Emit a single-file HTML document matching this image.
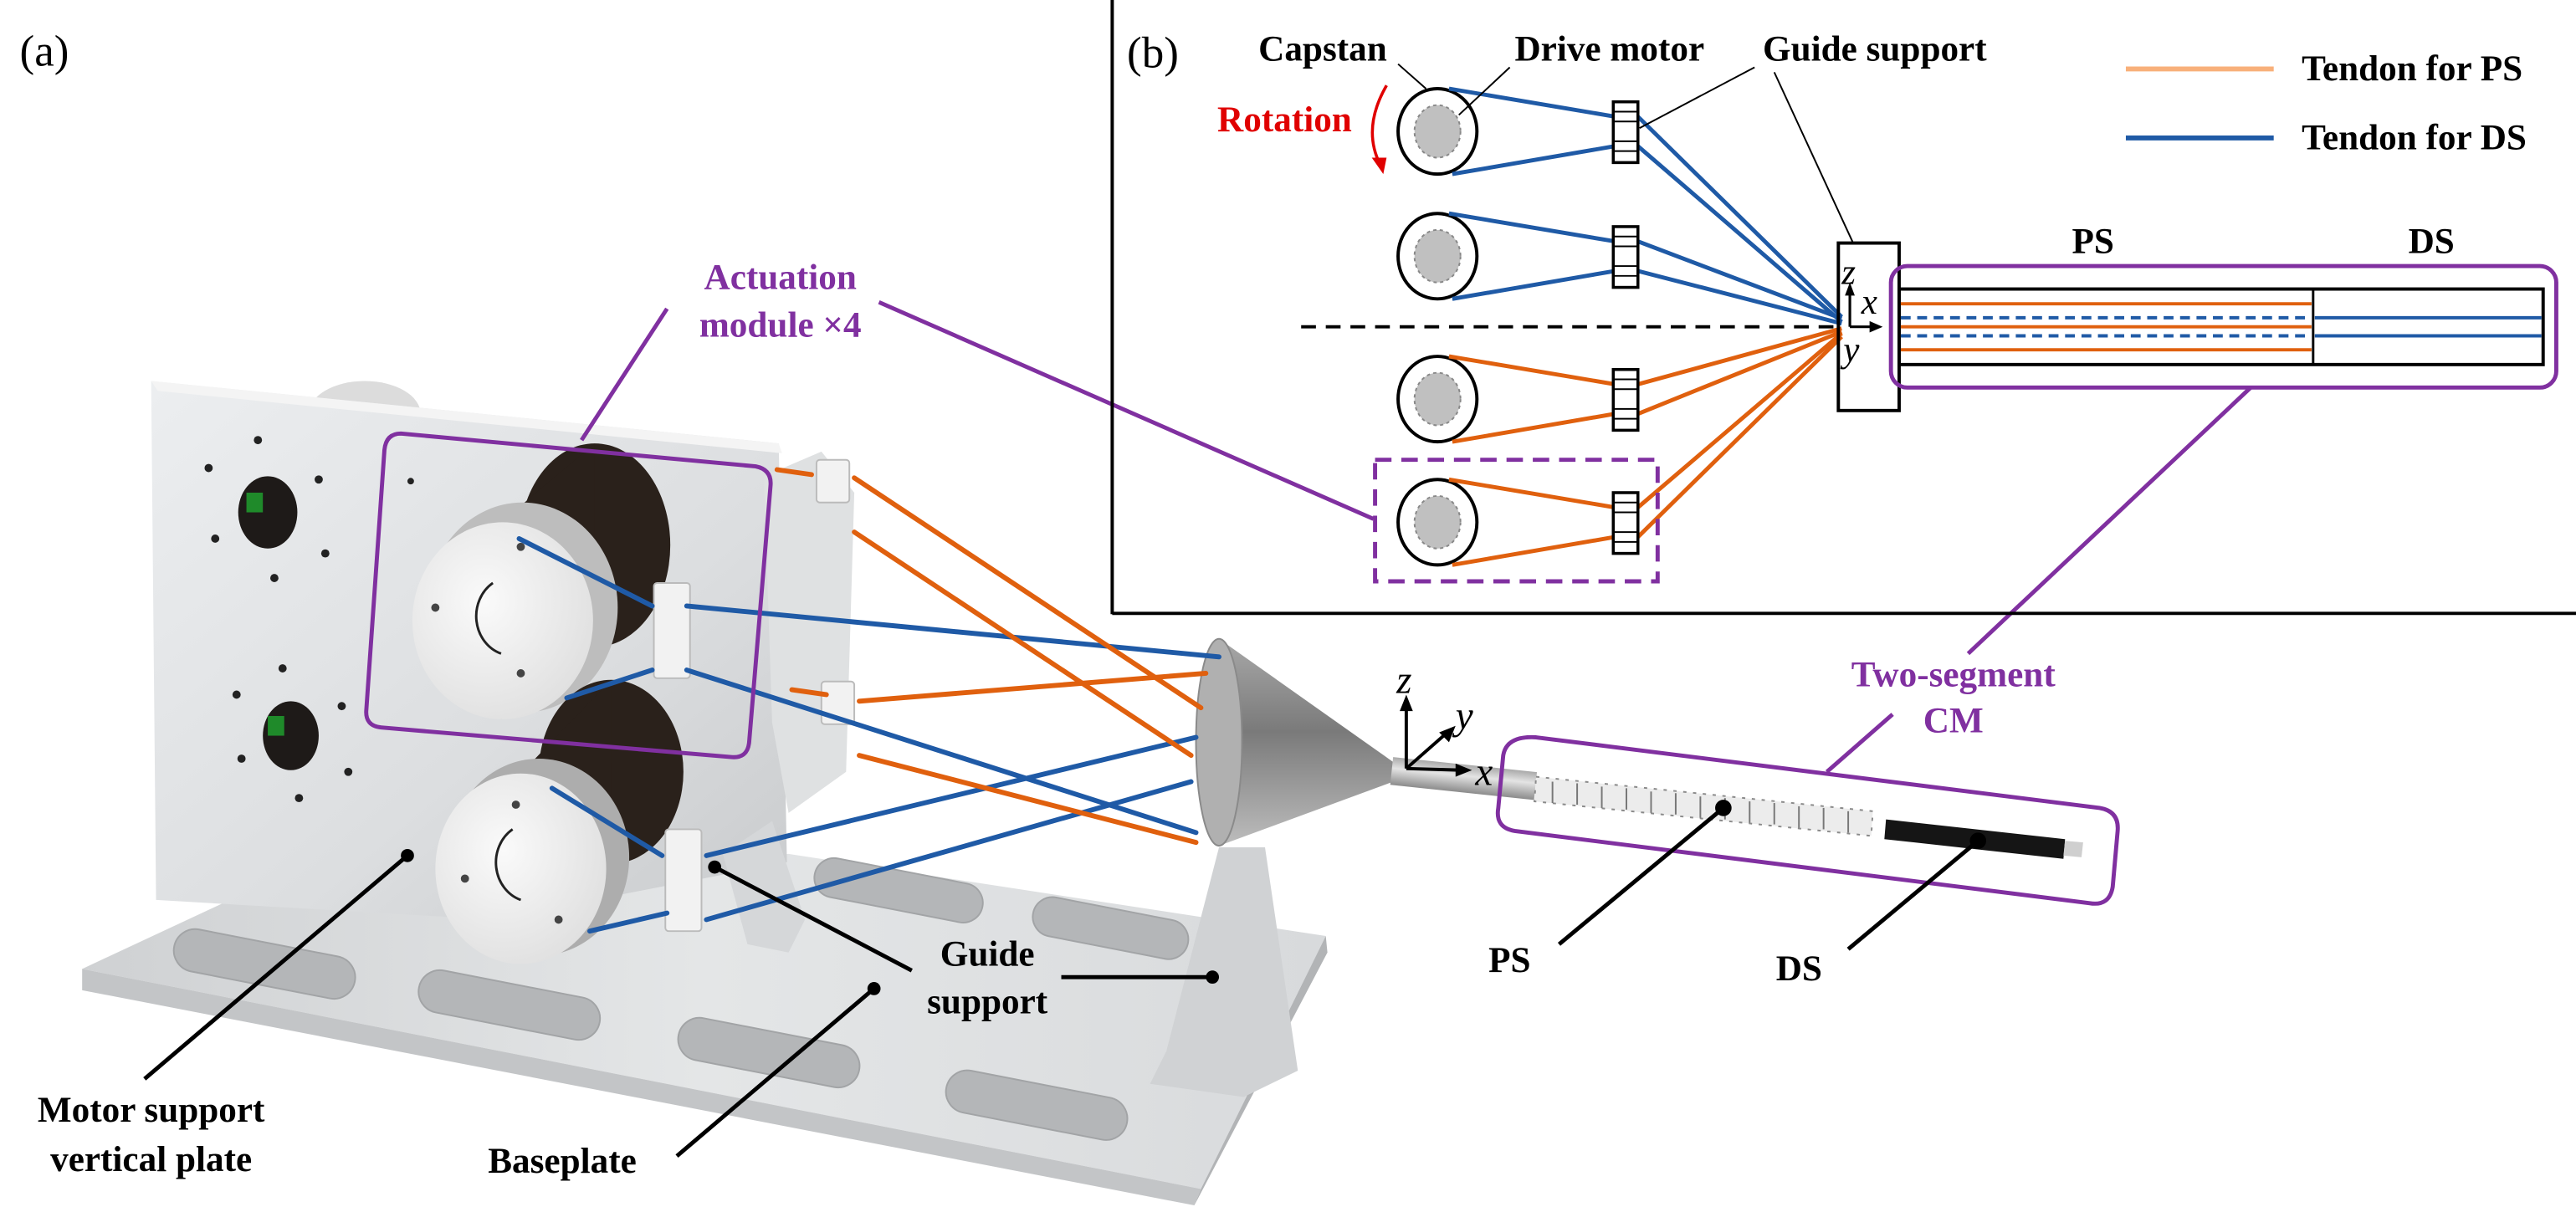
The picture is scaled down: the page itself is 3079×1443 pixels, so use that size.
<!DOCTYPE html>
<html><head><meta charset="utf-8"><style>
html,body{margin:0;padding:0;background:#fff;}
svg{display:block;}
text{font-family:"Liberation Serif",serif;}
.b{font-weight:bold;font-size:22px;}
</style></head><body>
<svg width="3079" height="1443" viewBox="0 0 1568 735" preserveAspectRatio="none" xmlns="http://www.w3.org/2000/svg">
<defs>
<linearGradient id="plate" x1="0" y1="0" x2="1" y2="1"><stop offset="0" stop-color="#eceef0"/><stop offset="0.6" stop-color="#dcdee0"/><stop offset="1" stop-color="#c9cbcd"/></linearGradient>
<linearGradient id="base" x1="0" y1="0" x2="1" y2="0"><stop offset="0" stop-color="#cfd1d3"/><stop offset="0.5" stop-color="#e4e6e7"/><stop offset="1" stop-color="#d8dadc"/></linearGradient>
<linearGradient id="cone" x1="0" y1="0" x2="0" y2="1"><stop offset="0" stop-color="#a8a8a8"/><stop offset="0.45" stop-color="#7a7a7a"/><stop offset="1" stop-color="#bdbdbd"/></linearGradient>
<linearGradient id="shaft" x1="0" y1="0" x2="0" y2="1"><stop offset="0" stop-color="#a9a9a9"/><stop offset="0.4" stop-color="#e4e4e4"/><stop offset="1" stop-color="#8c8c8c"/></linearGradient>
<radialGradient id="face" cx="0.4" cy="0.4" r="0.7"><stop offset="0" stop-color="#fafafa"/><stop offset="1" stop-color="#dedede"/></radialGradient>
</defs>

<text x="12" y="40" font-size="27">(a)</text>
<text x="686" y="41" font-size="27">(b)</text>

<ellipse cx="222" cy="252" rx="34" ry="20" fill="#dcdcdc"/>
<polygon points="50,590 140,548 480,520 807,570 731,724" fill="url(#base)"/>
<polygon points="50,590 731,724 727,734 50,603" fill="#c3c5c7"/>
<polygon points="731,724 807,570 808,580 727,734" fill="#b2b4b6"/>
<g fill="#b4b6b8" stroke="#a2a4a6" stroke-width="1">
<rect x="105" y="574" width="112" height="26" rx="13" transform="rotate(11 161 587)"/>
<rect x="254" y="599" width="112" height="26" rx="13" transform="rotate(11 310 612)"/>
<rect x="412" y="628" width="112" height="26" rx="13" transform="rotate(11 468 641)"/>
<rect x="575" y="660" width="112" height="26" rx="13" transform="rotate(11 631 673)"/>
<rect x="495" y="530" width="104" height="24" rx="12" transform="rotate(11 546 542)"/>
<rect x="628" y="553" width="96" height="24" rx="12" transform="rotate(11 675 565)"/>
</g>
<polygon points="92,232 474,270 479,525 300,560 95,548" fill="url(#plate)"/>
<polygon points="92,232 474,270 476,276 96,238" fill="#f4f4f4"/>
<ellipse cx="163" cy="312" rx="18" ry="22" fill="#1e1a18"/>
<rect x="150" y="300" width="10" height="12" fill="#1f8a2a"/>
<ellipse cx="177" cy="448" rx="17" ry="21" fill="#1e1a18"/>
<rect x="163" y="436" width="10" height="12" fill="#1f8a2a"/>
<g fill="#222"><circle cx="157" cy="268" r="2.5"/><circle cx="127" cy="285" r="2.5"/><circle cx="194" cy="292" r="2.5"/><circle cx="131" cy="328" r="2.5"/><circle cx="198" cy="337" r="2.5"/><circle cx="167" cy="352" r="2.5"/><circle cx="172" cy="407" r="2.5"/><circle cx="144" cy="423" r="2.5"/><circle cx="208" cy="430" r="2.5"/><circle cx="147" cy="462" r="2.5"/><circle cx="212" cy="470" r="2.5"/><circle cx="182" cy="486" r="2.5"/><circle cx="248" cy="521" r="2"/><circle cx="250" cy="293" r="2"/></g>
<polygon points="465,290 500,275 520,300 515,470 480,495 470,440" fill="#dfe1e2"/>
<polygon points="440,520 470,500 490,560 480,580 455,575" fill="#d5d7d9"/>
<polygon points="742,516 770,516 790,652 757,668 700,660 710,640" fill="#d0d2d4"/>
<ellipse cx="362" cy="332" rx="46" ry="62" fill="#2a211b"/>
<polygon points="305,318 362,270 362,394 305,438" fill="#2a211b"/>
<ellipse cx="318" cy="370" rx="58" ry="64" fill="#bdbdbd"/>
<ellipse cx="306" cy="378" rx="55" ry="60" fill="url(#face)"/>
<path d="M300,355 A22,24 0 0 0 305,398" fill="none" stroke="#222" stroke-width="1.5"/>
<g fill="#444"><circle cx="317" cy="333" r="2.5"/><circle cx="265" cy="370" r="2.5"/><circle cx="317" cy="410" r="2.5"/></g>
<ellipse cx="372" cy="470" rx="44" ry="56" fill="#2a211b"/>
<polygon points="318,470 372,414 372,526 318,586" fill="#2a211b"/>
<ellipse cx="328" cy="522" rx="55" ry="60" fill="#adadad"/>
<ellipse cx="317" cy="529" rx="52" ry="58" fill="url(#face)"/>
<path d="M312,505 A22,24 0 0 0 317,548" fill="none" stroke="#222" stroke-width="1.5"/>
<g fill="#444"><circle cx="314" cy="490" r="2.5"/><circle cx="283" cy="535" r="2.5"/><circle cx="340" cy="560" r="2.5"/></g>
<g fill="#f2f2f2" stroke="#bbb" stroke-width="1">
<rect x="398" y="355" width="22" height="58" rx="2"/>
<rect x="405" y="505" width="22" height="62" rx="2"/>
<rect x="497" y="280" width="20" height="26" rx="2"/>
<rect x="500" y="415" width="20" height="26" rx="2"/>
</g>
<polygon points="742,389 848,464 848,476 742,515" fill="url(#cone)"/>
<ellipse cx="742" cy="452" rx="14" ry="63" fill="#b0b0b0" stroke="#8a8a8a"/>
<rect x="848" y="461" width="88" height="17" fill="url(#shaft)" transform="rotate(6 848 461)"/>
<polygon points="935,473 1140,494 1139,509 934,488" fill="#ececec" stroke="#8a8a8a" stroke-width="1" stroke-dasharray="2,4"/>
<g stroke="#777" stroke-width="1"><line x1="945" y1="476" x2="945" y2="489"/><line x1="960" y1="477" x2="960" y2="490"/><line x1="975" y1="479" x2="975" y2="492"/><line x1="990" y1="480" x2="990" y2="493"/><line x1="1005" y1="482" x2="1005" y2="495"/><line x1="1020" y1="483" x2="1020" y2="496"/><line x1="1035" y1="485" x2="1035" y2="498"/><line x1="1050" y1="486" x2="1050" y2="499"/><line x1="1065" y1="488" x2="1065" y2="501"/><line x1="1080" y1="489" x2="1080" y2="502"/><line x1="1095" y1="491" x2="1095" y2="504"/><line x1="1110" y1="492" x2="1110" y2="505"/><line x1="1125" y1="494" x2="1125" y2="507"/></g>
<polygon points="1148,499 1257,511 1256,523 1147,511" fill="#151515"/>
<polygon points="1257,512 1268,513 1267,522 1256,521" fill="#cfcfcf"/>

<g stroke="#1f5aa6" stroke-width="3" fill="none" stroke-linecap="round">
<line x1="316" y1="328" x2="397" y2="369"/><line x1="418" y1="369" x2="742" y2="400"/>
<line x1="345" y1="425" x2="397" y2="408"/><line x1="418" y1="408" x2="728" y2="507"/>
<line x1="336" y1="480" x2="403" y2="521"/><line x1="430" y1="521" x2="728" y2="449"/>
<line x1="359" y1="567" x2="406" y2="556"/><line x1="430" y1="560" x2="725" y2="476"/>
</g>
<g stroke="#e0600e" stroke-width="3" fill="none" stroke-linecap="round">
<line x1="473" y1="286" x2="494" y2="289"/><line x1="520" y1="291" x2="731" y2="431"/>
<line x1="520" y1="324" x2="725" y2="460"/>
<line x1="482" y1="420" x2="503" y2="423"/><line x1="523" y1="427" x2="734" y2="410"/>
<line x1="523" y1="460" x2="728" y2="513"/>
</g>

<g stroke="#8030a0" stroke-width="2.5" fill="none">
<path d="M244,264 L460,284 Q470,286 469,296 L456,452 Q455,462 445,461 L232,443 Q222,442 223,432 L234,274 Q235,264 244,264 Z"/>
<line x1="406" y1="188" x2="354" y2="268"/>
<line x1="535" y1="184" x2="836" y2="316"/>
<path d="M935,449 L1278,492 Q1290,494 1289,506 L1286,540 Q1284,552 1272,550 L922,506 Q910,504 912,492 L915,460 Q917,448 935,449 Z"/>
<line x1="1152" y1="435" x2="1112" y2="470"/>
<line x1="1198" y1="398" x2="1370" y2="236"/>
</g>
<text x="475" y="176" class="b" fill="#8030a0" text-anchor="middle">Actuation</text>
<text x="475" y="205" class="b" fill="#8030a0" text-anchor="middle">module ×4</text>
<text x="1189" y="418" class="b" fill="#8030a0" text-anchor="middle">Two-segment</text>
<text x="1189" y="446" class="b" fill="#8030a0" text-anchor="middle">CM</text>

<g stroke="#000" stroke-width="2.5" fill="none">
<line x1="88" y1="657" x2="248" y2="521"/>
<line x1="412" y1="704" x2="532" y2="602"/>
<line x1="555" y1="591" x2="435" y2="528"/>
<line x1="646" y1="595" x2="738" y2="595"/>
<line x1="949" y1="575" x2="1049" y2="492"/>
<line x1="1125" y1="578" x2="1204" y2="512"/>
</g>
<g fill="#000"><circle cx="248" cy="521" r="4"/><circle cx="532" cy="602" r="4"/><circle cx="435" cy="528" r="4"/><circle cx="738" cy="595" r="4"/><circle cx="1049" cy="492" r="5"/><circle cx="1204" cy="512" r="5"/></g>
<text x="92" y="683" class="b" text-anchor="middle">Motor support</text>
<text x="92" y="713" class="b" text-anchor="middle">vertical plate</text>
<text x="297" y="714" class="b">Baseplate</text>
<text x="601" y="588" class="b" text-anchor="middle">Guide</text>
<text x="601" y="617" class="b" text-anchor="middle">support</text>
<text x="906" y="592" class="b">PS</text>
<text x="1081" y="597" class="b">DS</text>

<g stroke="#000" stroke-width="2" fill="none">
<line x1="856" y1="468" x2="856" y2="430"/><line x1="856" y1="468" x2="890" y2="469"/><line x1="856" y1="468" x2="881" y2="446"/>
</g>
<g fill="#000"><polygon points="856,423 852,433 860,433"/><polygon points="896,469 886,465 886,473"/><polygon points="886,442 876,446 882,452"/></g>
<text x="850" y="422" font-size="24" font-style="italic">z</text>
<text x="886" y="444" font-size="24" font-style="italic">y</text>
<text x="898" y="478" font-size="24" font-style="italic">x</text>

<line x1="677" y1="0" x2="677" y2="374" stroke="#000" stroke-width="2"/>
<line x1="677" y1="373.5" x2="1568" y2="373.5" stroke="#000" stroke-width="2"/>
<line x1="792" y1="199" x2="1122" y2="199" stroke="#000" stroke-width="2" stroke-dasharray="9,6"/>

<g stroke="#000" stroke-width="2" fill="#fff">
<ellipse cx="875" cy="80" rx="24" ry="26"/><ellipse cx="875" cy="156" rx="24" ry="26"/><ellipse cx="875" cy="243" rx="24" ry="26"/><ellipse cx="875" cy="318" rx="24" ry="26"/>
</g>
<g fill="#c0c0c0" stroke="#888" stroke-width="1" stroke-dasharray="2,2">
<ellipse cx="875" cy="80" rx="14" ry="16"/><ellipse cx="875" cy="156" rx="14" ry="16"/><ellipse cx="875" cy="243" rx="14" ry="16"/><ellipse cx="875" cy="318" rx="14" ry="16"/>
</g>
<g stroke="#1f5aa6" stroke-width="2.5" fill="none">
<polyline points="882,54 983,71 997,71 1121,193"/><polyline points="884,106 983,89 997,89 1121,196"/>
<polyline points="882,130 983,147 997,147 1121,194"/><polyline points="884,182 983,165 997,165 1121,197"/>
</g>
<g stroke="#e0600e" stroke-width="2.5" fill="none">
<polyline points="882,217 983,234 997,234 1121,200"/><polyline points="884,269 983,252 997,252 1121,202"/>
<polyline points="882,292 983,309 997,309 1121,203"/><polyline points="884,344 983,327 997,327 1121,205"/>
</g>
<g stroke="#000" stroke-width="1.8" fill="#fff">
<rect x="982" y="62" width="15" height="37"/><rect x="982" y="138" width="15" height="37"/><rect x="982" y="225" width="15" height="37"/><rect x="982" y="300" width="15" height="37"/>
</g>
<g stroke="#000" stroke-width="1">
<line x1="982" y1="68" x2="997" y2="68"/><line x1="982" y1="74" x2="997" y2="74"/><line x1="982" y1="86" x2="997" y2="86"/><line x1="982" y1="92" x2="997" y2="92"/>
<line x1="982" y1="144" x2="997" y2="144"/><line x1="982" y1="150" x2="997" y2="150"/><line x1="982" y1="162" x2="997" y2="162"/><line x1="982" y1="168" x2="997" y2="168"/>
<line x1="982" y1="231" x2="997" y2="231"/><line x1="982" y1="237" x2="997" y2="237"/><line x1="982" y1="249" x2="997" y2="249"/><line x1="982" y1="255" x2="997" y2="255"/>
<line x1="982" y1="306" x2="997" y2="306"/><line x1="982" y1="312" x2="997" y2="312"/><line x1="982" y1="324" x2="997" y2="324"/><line x1="982" y1="330" x2="997" y2="330"/>
</g>
<rect x="837" y="280" width="172" height="74" fill="none" stroke="#8030a0" stroke-width="2.5" stroke-dasharray="10,6"/>
<rect x="1119" y="148" width="37" height="102" fill="none" stroke="#000" stroke-width="2"/>
<line x1="1126" y1="199" x2="1126" y2="178" stroke="#000" stroke-width="1.6"/>
<polygon points="1126,172 1123,180 1129,180" fill="#000"/>
<line x1="1126" y1="199" x2="1140" y2="199" stroke="#000" stroke-width="1.6"/>
<polygon points="1146,199 1138,195.5 1138,202.5" fill="#000"/>
<text x="1121" y="173" font-size="22" font-style="italic">z</text>
<text x="1133" y="191" font-size="22" font-style="italic">x</text>
<text x="1122" y="220" font-size="22" font-style="italic">y</text>
<rect x="1151" y="162" width="405" height="74" rx="10" fill="none" stroke="#8030a0" stroke-width="2.5"/>
<rect x="1156" y="176" width="392" height="46" fill="none" stroke="#000" stroke-width="2"/>
<line x1="1408" y1="176" x2="1408" y2="222" stroke="#000" stroke-width="1.5"/>
<g stroke="#e0600e" stroke-width="2"><line x1="1157" y1="185" x2="1407" y2="185"/><line x1="1157" y1="199" x2="1407" y2="199"/><line x1="1157" y1="213" x2="1407" y2="213"/></g>
<g stroke="#1f5aa6" stroke-width="2"><line x1="1157" y1="193.5" x2="1407" y2="193.5" stroke-dasharray="6,4"/><line x1="1157" y1="204.5" x2="1407" y2="204.5" stroke-dasharray="6,4"/><line x1="1409" y1="193.5" x2="1547" y2="193.5"/><line x1="1409" y1="204.5" x2="1547" y2="204.5"/></g>
<text x="1274" y="154" class="b" text-anchor="middle">PS</text>
<text x="1480" y="154" class="b" text-anchor="middle">DS</text>
<text x="766" y="37" class="b">Capstan</text>
<text x="922" y="37" class="b">Drive motor</text>
<text x="1073" y="37" class="b">Guide support</text>
<g stroke="#000" stroke-width="1">
<line x1="851" y1="39" x2="868" y2="54"/><line x1="919" y1="41" x2="888" y2="70"/><line x1="1068" y1="41" x2="998" y2="78"/><line x1="1080" y1="44" x2="1128" y2="148"/>
</g>
<text x="741" y="80" class="b" fill="#e00000">Rotation</text>
<path d="M844,52 Q829,78 840,100" fill="none" stroke="#e00000" stroke-width="1.8"/>
<polygon points="842,106 835,96 844,96" fill="#e00000"/>
<line x1="1294" y1="42" x2="1384" y2="42" stroke="#f8b07a" stroke-width="3"/>
<line x1="1294" y1="84" x2="1384" y2="84" stroke="#1f5aa6" stroke-width="3"/>
<text x="1401" y="49" class="b">Tendon for PS</text>
<text x="1401" y="91" class="b">Tendon for DS</text>
</svg>
</body></html>
